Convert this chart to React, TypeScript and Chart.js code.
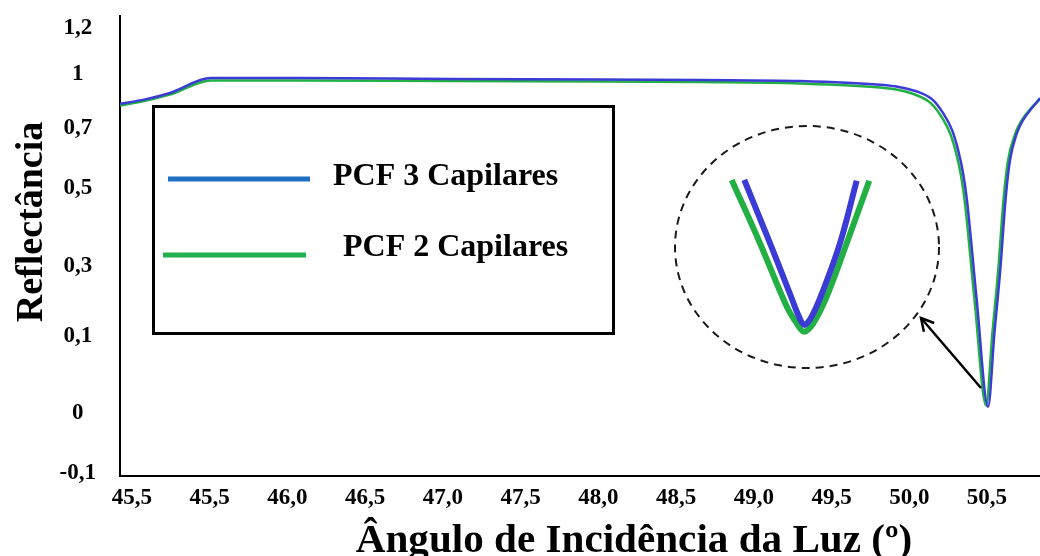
import { useEffect, useRef } from "react";
import { Chart, registerables } from "chart.js";

Chart.register(...registerables);

// ---------- data ----------
const xTickValues = [45.0, 45.5, 46.0, 46.5, 47.0, 47.5, 48.0, 48.5, 49.0, 49.5, 50.0, 50.5];
const xTickLabels = ["45,5", "45,5", "46,0", "46,5", "47,0", "47,5", "48,0", "48,5", "49,0", "49,5", "50,0", "50,5"];
const yTickValues = [1.136, 1.0, 0.841, 0.664, 0.434, 0.227, 0, -0.177];
const yTickLabels = ["1,2", "1", "0,7", "0,5", "0,3", "0,1", "0", "-0,1"];
const seriesNames = ["PCF 3 Capilares", "PCF 2 Capilares"];
const xTitle = "Ângulo de Incidência da Luz (º)";
const yTitle = "Reflectância";

const blueAngles = [44.923, 45.084, 45.244, 45.508, 46.081, 47.046, 48.011, 48.654, 49.297, 49.812, 49.94, 50.069, 50.153, 50.217, 50.275, 50.314, 50.346, 50.371, 50.434, 50.507, 50.548, 50.587, 50.619, 50.648, 50.693, 50.732, 50.796, 50.841];
const blueValues = [0.912, 0.925, 0.944, 0.988, 0.988, 0.985, 0.984, 0.982, 0.979, 0.968, 0.961, 0.945, 0.923, 0.885, 0.835, 0.776, 0.708, 0.628, 0.333, 0.018, 0.236, 0.431, 0.628, 0.746, 0.826, 0.864, 0.903, 0.929];

const greenAngles = [44.923, 45.084, 45.244, 45.508, 46.081, 47.046, 48.011, 48.654, 49.297, 49.812, 49.94, 50.06, 50.14, 50.204, 50.262, 50.301, 50.333, 50.358, 50.421, 50.494, 50.535, 50.574, 50.606, 50.635, 50.68, 50.719, 50.783, 50.841];
const greenValues = [0.907, 0.921, 0.939, 0.981, 0.981, 0.979, 0.978, 0.976, 0.972, 0.96, 0.952, 0.935, 0.913, 0.876, 0.826, 0.768, 0.7, 0.62, 0.328, 0.022, 0.236, 0.431, 0.628, 0.744, 0.822, 0.86, 0.899, 0.925];

// magnified inset (relative units)
const insetBlueU = [-0.834, -0.456, -0.137, -0.04, 0.049, 0.157, 0.328, 0.574, 0.819];
const insetBlueV = [1.0, 0.592, 0.237, 0.129, 0.065, 0.118, 0.29, 0.592, 0.995];
const insetGreenU = [-1.019, -0.603, -0.21, -0.063, 0.044, 0.181, 0.378, 0.672, 1.004];
const insetGreenV = [1.0, 0.592, 0.183, 0.075, 0.021, 0.075, 0.247, 0.592, 0.995];

const SERIF = "'Liberation Serif', 'Times New Roman', serif";
const BLUE = "#3b3bd6";
const GREEN = "#22b044";
const LEGEND_BLUE = "#1f6fc2";
const LEGEND_GREEN = "#22b14c";

const zip = (xs: number[], ys: number[]) => xs.map((x, i) => ({ x, y: ys[i] }));

const annotations = {
  id: "annotations",
  afterDraw(chart: any) {
    const ctx = chart.ctx as CanvasRenderingContext2D;
    ctx.save();
    // legend box
    ctx.strokeStyle = "#000";
    ctx.lineWidth = 3;
    ctx.strokeRect(153.5, 106.5, 460, 227);
    ctx.lineCap = "butt";
    ctx.lineWidth = 5;
    ctx.strokeStyle = LEGEND_BLUE;
    ctx.beginPath();
    ctx.moveTo(168, 179);
    ctx.lineTo(310, 179);
    ctx.stroke();
    ctx.strokeStyle = LEGEND_GREEN;
    ctx.beginPath();
    ctx.moveTo(163, 255);
    ctx.lineTo(306, 255);
    ctx.stroke();
    ctx.fillStyle = "#000";
    ctx.font = `bold 32px ${SERIF}`;
    ctx.textAlign = "left";
    ctx.textBaseline = "alphabetic";
    ctx.fillText(seriesNames[0], 333, 185);
    ctx.fillText(seriesNames[1], 343, 256);

    // dashed ellipse
    ctx.setLineDash([8, 6]);
    ctx.lineWidth = 2;
    ctx.strokeStyle = "#1a1a1a";
    ctx.beginPath();
    ctx.ellipse(807, 247, 132, 121, 0, 0, Math.PI * 2);
    ctx.stroke();
    ctx.setLineDash([]);

    // arrow
    const sx = 981, sy = 388, tx = 921, ty = 318;
    ctx.lineWidth = 2.5;
    ctx.strokeStyle = "#000";
    ctx.beginPath();
    ctx.moveTo(sx, sy);
    ctx.lineTo(tx, ty);
    ctx.stroke();
    const ang = Math.atan2(ty - sy, tx - sx);
    const hl = 14;
    ctx.beginPath();
    ctx.moveTo(tx - hl * Math.cos(ang - 0.5), ty - hl * Math.sin(ang - 0.5));
    ctx.lineTo(tx, ty);
    ctx.lineTo(tx - hl * Math.cos(ang + 0.5), ty - hl * Math.sin(ang + 0.5));
    ctx.stroke();

    // axis titles
    ctx.fillStyle = "#000";
    ctx.textAlign = "center";
    ctx.textBaseline = "alphabetic";
    ctx.save();
    ctx.translate(634, 552);
    ctx.scale(1.055, 1);
    ctx.font = `bold 39px ${SERIF}`;
    ctx.fillText(xTitle, 0, 0);
    ctx.restore();
    ctx.save();
    ctx.translate(42, 222);
    ctx.rotate(-Math.PI / 2);
    ctx.font = `bold 38px ${SERIF}`;
    ctx.fillText(yTitle, 0, 0);
    ctx.restore();
    ctx.restore();
  },
};

export default function App() {
  const ref = useRef<HTMLCanvasElement | null>(null);
  useEffect(() => {
    if (!ref.current) return;
    const zeroPad = (s: any) => {
      s.paddingTop = 0;
      s.paddingBottom = 0;
      s.paddingLeft = 0;
      s.paddingRight = 0;
    };
    const chart = new Chart(ref.current, {
      type: "line",
      data: {
        datasets: [
          {
            label: seriesNames[0],
            data: zip(blueAngles, blueValues),
            borderColor: BLUE,
            borderWidth: 2.5,
            pointRadius: 0,
            cubicInterpolationMode: "monotone",
            xAxisID: "x",
            yAxisID: "y",
          },
          {
            label: seriesNames[1],
            data: zip(greenAngles, greenValues),
            borderColor: GREEN,
            borderWidth: 2.5,
            pointRadius: 0,
            cubicInterpolationMode: "monotone",
            xAxisID: "x",
            yAxisID: "y",
          },
          {
            label: "inset-blue",
            data: zip(insetBlueU, insetBlueV),
            borderColor: BLUE,
            borderWidth: 6,
            pointRadius: 0,
            tension: 0.35,
            xAxisID: "ix",
            yAxisID: "iy",
          },
          {
            label: "inset-green",
            data: zip(insetGreenU, insetGreenV),
            borderColor: GREEN,
            borderWidth: 6,
            pointRadius: 0,
            tension: 0.35,
            xAxisID: "ix",
            yAxisID: "iy",
          },
        ],
      },
      options: {
        responsive: false,
        animation: false,
        devicePixelRatio: 1,
        layout: { padding: { top: 16, left: 0, right: 0, bottom: 0 } },
        plugins: { legend: { display: false }, tooltip: { enabled: false } },
        scales: {
          x: {
            type: "linear",
            position: "bottom",
            min: 44.923,
            max: 50.841,
            grid: { display: false, drawTicks: false },
            border: { display: true, color: "#000", width: 2 },
            afterBuildTicks: (s: any) => {
              s.ticks = xTickValues.map((v) => ({ value: v }));
            },
            afterFit: (s: any) => {
              s.height = 80;
              zeroPad(s);
            },
            ticks: {
              autoSkip: false,
              maxRotation: 0,
              padding: 8,
              color: "#000",
              font: { family: SERIF, size: 23, weight: "bold" },
              callback: (_v: any, i: number) => xTickLabels[i],
            },
          },
          y: {
            type: "linear",
            position: "left",
            min: -0.186,
            max: 1.171,
            grid: { display: false, drawTicks: false },
            border: { display: true, color: "#000", width: 2 },
            afterBuildTicks: (s: any) => {
              s.ticks = yTickValues.map((v) => ({ value: v }));
            },
            afterFit: (s: any) => {
              s.width = 120;
              zeroPad(s);
            },
            ticks: {
              autoSkip: false,
              crossAlign: "center",
              padding: 24,
              color: "#000",
              font: { family: SERIF, size: 23, weight: "bold" },
              callback: (_v: any, i: number) => yTickLabels[i],
            },
          },
          ix: { type: "linear", display: false, min: -10.015, max: 3.515 },
          iy: { type: "linear", display: false, min: -0.91, max: 2.058 },
        },
      } as any,
      plugins: [annotations],
    });
    return () => chart.destroy();
  }, []);
  return (
    <div style={{ position: "fixed", left: 0, top: 0, width: 1040, height: 556, background: "#fff" }}>
      <canvas ref={ref} width={1040} height={556} style={{ display: "block" }} />
    </div>
  );
}
